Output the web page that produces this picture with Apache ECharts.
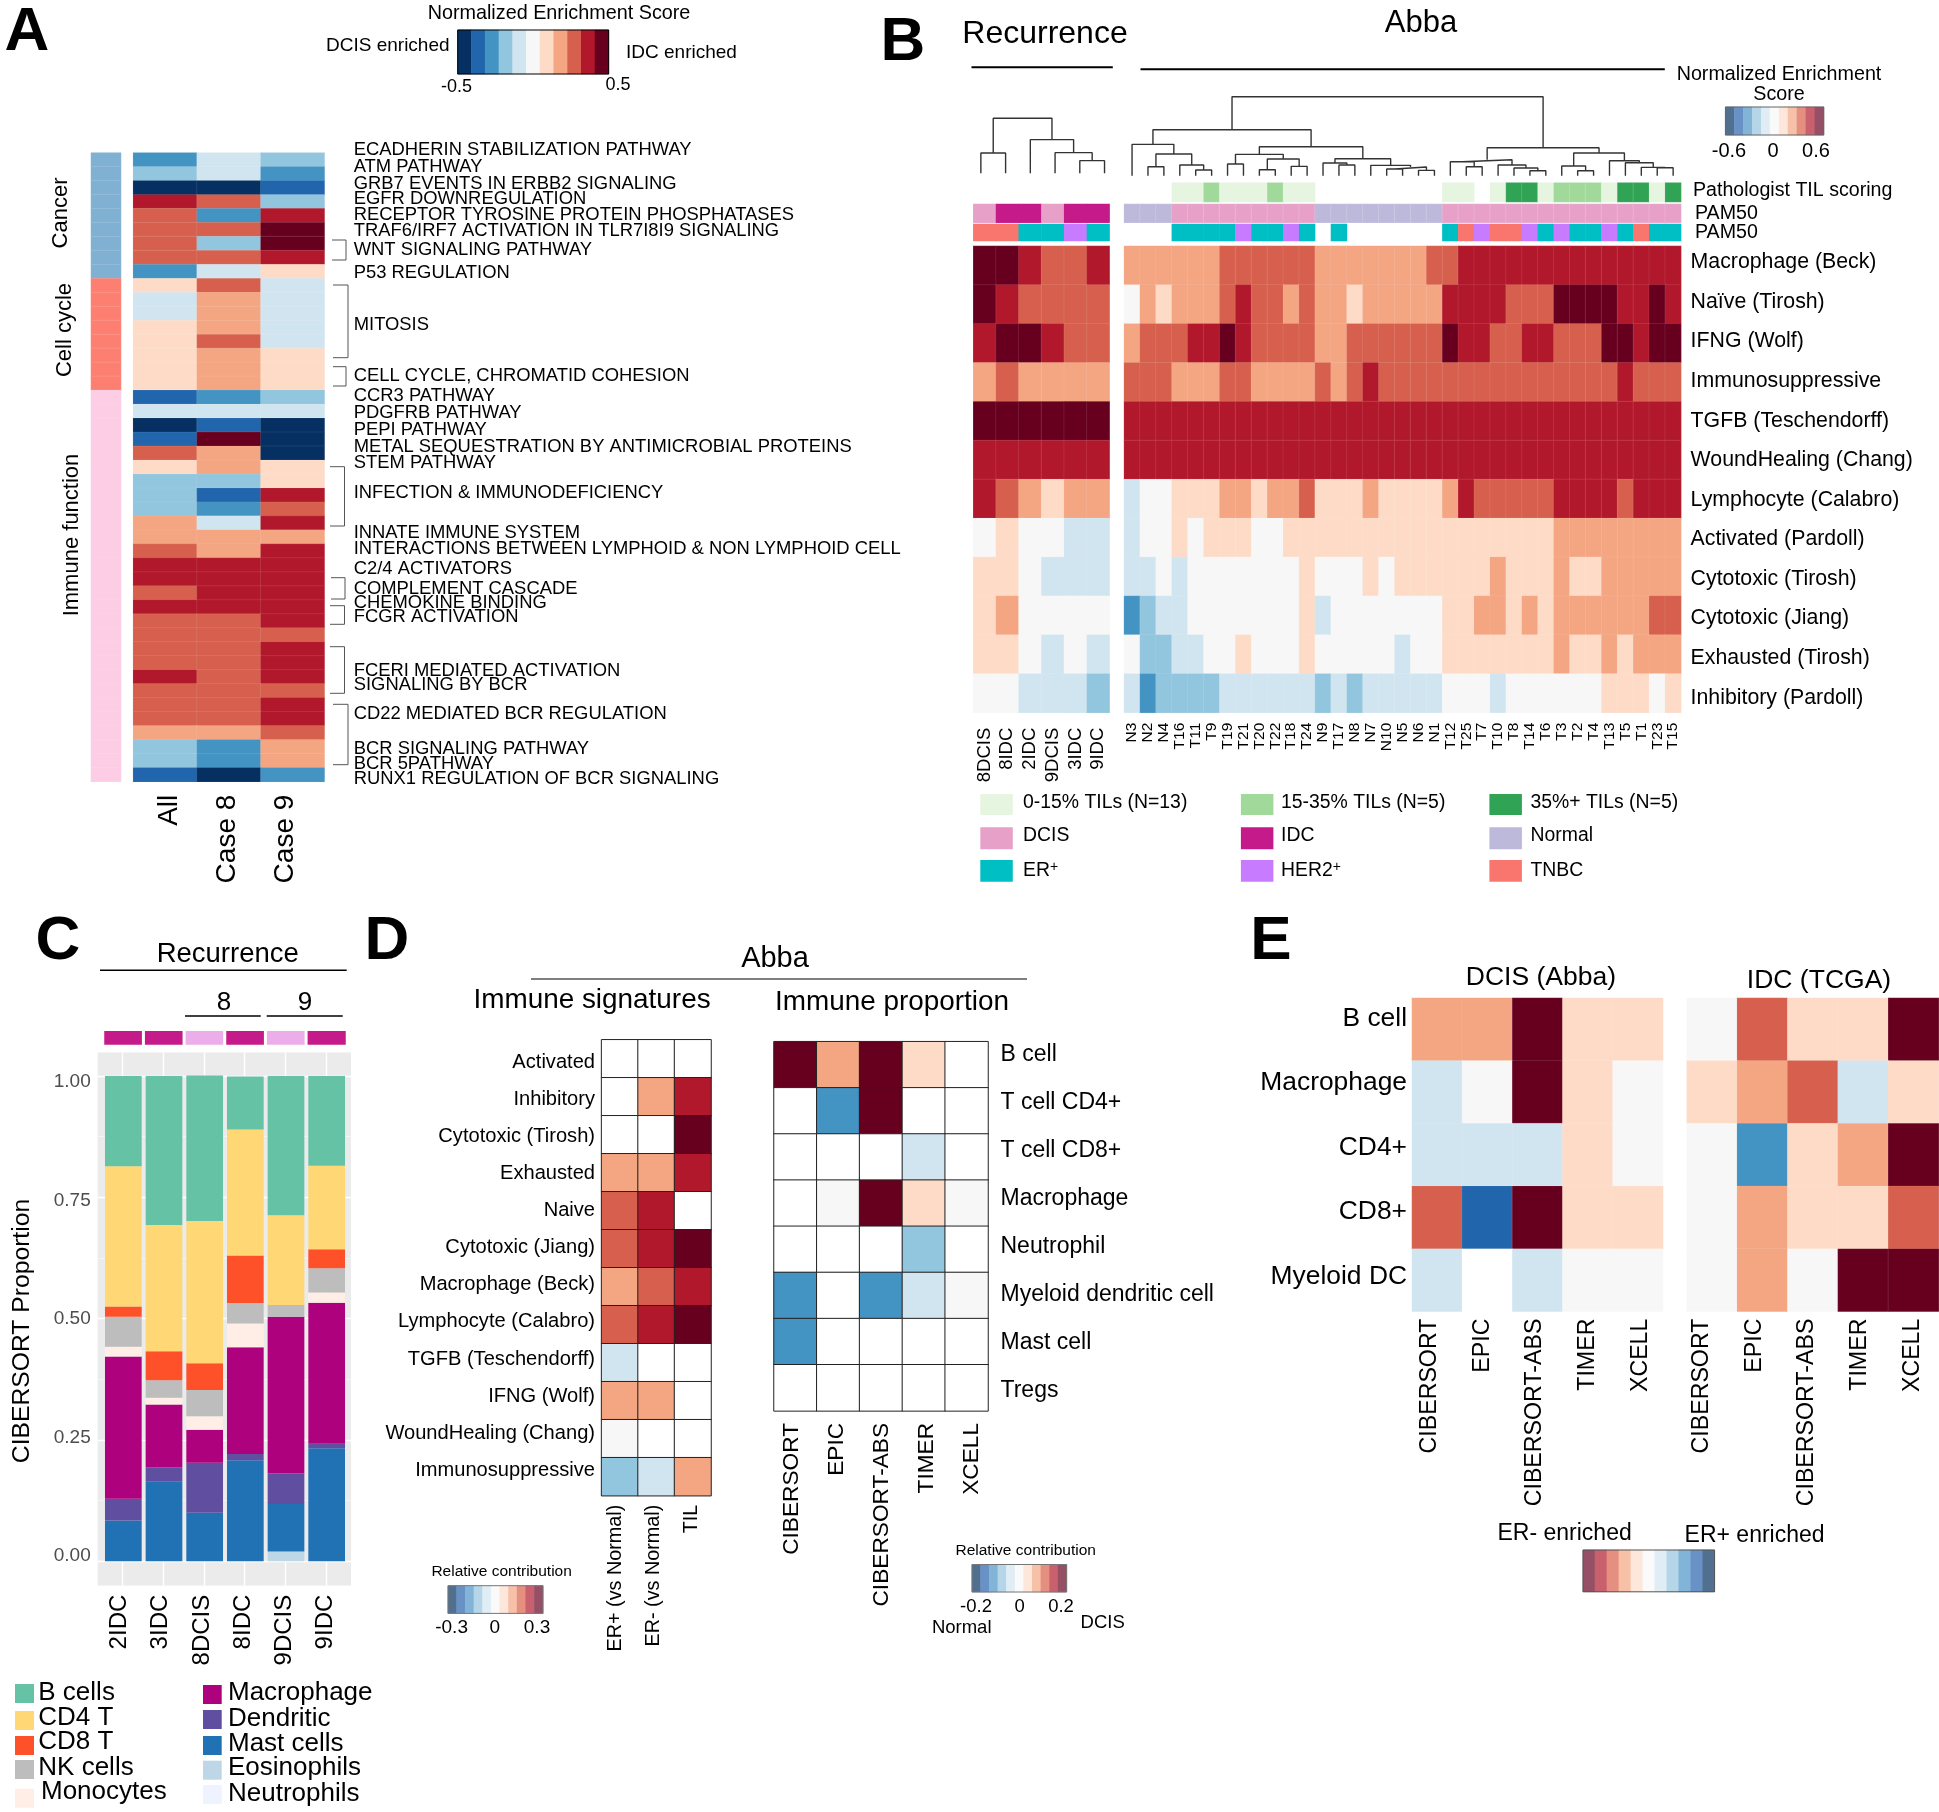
<!DOCTYPE html>
<html><head><meta charset="utf-8">
<style>html,body{margin:0;padding:0;background:#fff}#c{width:1939px;height:1812px}</style>
<script src="https://cdn.jsdelivr.net/npm/echarts@6/dist/echarts.min.js"></script>
</head><body><div id="c"></div>
<script>
// Heat values are the colour bins: -5 (dark blue) .. 5 (dark red); W = blank white cell
const W = 6;
// ---------- Panel A
const aColumns = ['All','Case 8','Case 9'];
const aAll   = [-3,-2,-5,4,3,3,3,3,-3, 1,-1,-1,1,1,1,1,1, -4,-1,-5,-4,3,1,-2,-2,-2,2,2,3,4,4,3,4,3,3,3,3,4,3,3,3,2,-2,-2,-4];
const aCase8 = [-1,-1,-5,3,-3,3,-2,3,-1, 3,2,2,2,3,2,2,2, -3,-1,-4,5,2,2,-2,-4,-3,-1,2,2,4,4,4,4,3,3,3,3,3,3,3,3,2,-3,-3,-5];
const aCase9 = [-2,-3,-4,-2,4,5,5,4,1, -1,-1,-1,-1,-1,1,1,1, -2,-1,-5,-5,-5,1,1,4,3,4,2,4,4,4,4,4,4,3,4,4,4,3,4,4,3,2,2,-3];
const aGroups = ['Cancer','Cell cycle','Immune function'];
const aGroupSizes = [9,8,28];
const aPathways = ['ECADHERIN STABILIZATION PATHWAY','ATM PATHWAY','GRB7 EVENTS IN ERBB2 SIGNALING','EGFR DOWNREGULATION','RECEPTOR TYROSINE PROTEIN PHOSPHATASES','TRAF6/IRF7 ACTIVATION IN TLR7I8I9 SIGNALING','WNT SIGNALING PATHWAY','P53 REGULATION','MITOSIS','CELL CYCLE, CHROMATID COHESION','CCR3 PATHWAY','PDGFRB PATHWAY','PEPI PATHWAY','METAL SEQUESTRATION BY ANTIMICROBIAL PROTEINS','STEM PATHWAY','INFECTION & IMMUNODEFICIENCY','INNATE IMMUNE SYSTEM','INTERACTIONS BETWEEN LYMPHOID & NON LYMPHOID CELL','C2/4 ACTIVATORS','COMPLEMENT CASCADE','CHEMOKINE BINDING','FCGR ACTIVATION','FCERI MEDIATED ACTIVATION','SIGNALING BY BCR','CD22 MEDIATED BCR REGULATION','BCR SIGNALING PATHWAY','BCR 5PATHWAY','RUNX1 REGULATION OF BCR SIGNALING'];
const aPathwayLabelTop = [150,167.3,184,198.7,215,231.3,250.3,273,325,376,396,413,430,447,462.7,493.3,533.3,549.3,568.7,588.7,602.7,616.7,671.3,685.3,714.3,748.7,764.3,779];
const aBrackets = [[332,346,240,260],[333,348,285,357.7],[333,346,366.7,386],[330,344.5,466.7,526],[331,345,577.7,599],[330,344.5,605.7,624.3],[330,344.5,646.7,693.3],[333,348,704.3,764.7]];
const colorbarBins = [-5,-4,-3,-2,-1,0,1,2,3,4,5];

// ---------- Panel B
const bSignatures = ['Macrophage (Beck)','Naïve (Tirosh)','IFNG (Wolf)','Immunosuppressive','TGFB (Teschendorff)','WoundHealing (Chang)','Lymphocyte (Calabro)','Activated (Pardoll)','Cytotoxic (Tirosh)','Cytotoxic (Jiang)','Exhausted (Tirosh)','Inhibitory (Pardoll)'];
const recSamples = ['8DCIS','8IDC','2IDC','9DCIS','3IDC','9IDC'];
const recMacrophage = [5,5,4,3,3,4];
const recNaive = [5,4,3,3,3,3];
const recIfng = [4,5,5,4,3,3];
const recImmuno = [2,3,2,2,2,2];
const recTgfb = [5,5,5,5,5,5];
const recWound = [4,4,4,4,4,4];
const recLympho = [4,3,2,1,2,2];
const recActivated = [0,1,0,0,-1,-1];
const recCytoTirosh = [1,1,0,-1,-1,-1];
const recCytoJiang = [1,2,0,0,0,0];
const recExhausted = [1,1,0,-1,0,-1];
const recInhibitory = [0,0,-1,-1,-1,-2];
const recType = ['DCIS','IDC','IDC','DCIS','IDC','IDC'];
const recSubtype = ['TNBC','TNBC','ER','ER','HER2','ER'];
const recMerge = [[-1,-2,61],[-5,-6,38],[-4,2,62],[-3,3,101],[1,4,165]];

const abbaSamples = ['N3','N2','N4','T16','T11','T9','T19','T21','T20','T22','T18','T24','N9','T17','N8','N7','N10','N5','N6','N1','T12','T25','T7','T10','T8','T14','T6','T3','T2','T4','T13','T5','T1','T23','T15'];
const abMacrophage = [2,2,2,2,2,2,3,3,3,3,3,3,2,2,2,2,2,2,2,3,3,4,4,4,4,4,4,4,4,4,4,4,4,4,4];
const abNaive = [0,2,1,2,2,2,3,4,3,3,2,3,2,2,1,2,2,2,2,2,4,4,4,4,3,3,3,5,5,5,5,4,4,5,4];
const abIfng = [2,3,3,3,4,4,5,4,3,3,3,3,2,2,3,3,3,3,3,3,5,4,4,3,3,4,4,3,3,3,5,5,4,5,5];
const abImmuno = [3,3,3,2,2,2,3,3,2,2,2,2,3,2,3,4,3,3,3,3,3,3,3,3,3,3,3,3,3,3,3,4,3,3,3];
const abTgfb = [4,4,4,4,4,4,4,4,4,4,4,4,4,4,4,4,4,4,4,4,4,4,4,4,4,4,4,4,4,4,4,4,4,4,4];
const abWound = [4,4,4,4,4,4,4,4,4,4,4,4,4,4,4,4,4,4,4,4,4,4,4,4,4,4,4,4,4,4,4,4,4,4,4];
const abLympho = [-1,0,0,1,1,1,2,2,1,2,2,3,1,1,1,2,1,1,1,1,2,4,3,3,3,3,3,4,4,4,4,3,4,4,4];
const abActivated = [-1,0,0,1,0,1,1,1,0,0,1,1,1,1,1,1,1,1,1,1,1,1,1,1,1,1,1,2,2,2,2,2,2,2,2];
const abCytoTirosh = [-1,-1,0,-1,0,0,0,0,0,0,0,1,0,0,0,1,0,1,1,1,1,1,1,2,1,1,1,2,1,1,2,2,2,2,2];
const abCytoJiang = [-3,-2,-1,-1,0,0,0,0,0,0,0,1,-1,0,0,0,0,0,0,0,1,1,2,2,1,2,1,2,2,2,2,2,2,3,3];
const abExhausted = [0,-2,-2,-1,-1,0,0,1,0,0,0,1,0,0,0,0,0,-1,0,0,1,1,1,1,1,1,1,2,1,1,2,1,2,2,2];
const abInhibitory = [-1,-3,-2,-2,-2,-2,-1,-1,-1,-1,-1,-1,-2,-1,-2,-1,-1,-1,-1,-1,0,0,0,-1,0,0,0,0,0,0,1,1,1,0,1];
const abTil = [null,null,null,'L','L','M','L','L','L','M','L','L',null,null,null,null,null,null,null,null,'L','L',null,'L','D','D','L','M','M','M','L','D','D','L','D'];
const abType = ['Normal','Normal','Normal','DCIS','DCIS','DCIS','DCIS','DCIS','DCIS','DCIS','DCIS','DCIS','Normal','Normal','Normal','Normal','Normal','Normal','Normal','Normal','DCIS','DCIS','DCIS','DCIS','DCIS','DCIS','DCIS','DCIS','DCIS','DCIS','DCIS','DCIS','DCIS','DCIS','DCIS'];
const abSubtype = [null,null,null,'ER','ER','ER','ER','HER2','ER','ER','HER2','ER',null,'ER',null,null,null,null,null,null,'ER','TNBC','HER2','TNBC','TNBC','HER2','ER','HER2','ER','ER','HER2','ER','TNBC','ER','ER'];
const abbaMerge = [[-2,-3,27],[-5,-6,17],[-4,2,32],[1,3,65],[-1,4,94],[-17,-18,20],[-19,-20,16],[6,7,26],[-16,8,31],[-14,-15,32],[-13,10,38],[11,9,51],[-9,-10,18],[-11,-12,28],[13,14,50],[-7,-8,35],[16,15,64],[17,12,87],[5,18,138],[-22,-23,27],[-21,20,42],[-26,-27,15],[-25,22,23],[-24,23,32],[21,24,48],[-29,-30,15],[-28,26,29],[-34,-35,24],[-33,28,25],[-32,29,39],[-31,30,45],[27,31,68],[25,32,84],[19,33,237]];
const bLegendNames = ['0-15% TILs (N=13)','15-35% TILs (N=5)','35%+ TILs (N=5)','DCIS','IDC','Normal','ER','HER2','TNBC'];
const bLegendKeys = ['L','M','D','DCIS','IDC','Normal','ER','HER2','TNBC'];

// ---------- Panel C (bottom to top of the stack)
const cSamples = ['2IDC','3IDC','8DCIS','8IDC','9DCIS','9IDC'];
const cGroup = ['IDC','IDC','DCISL','IDC','DCISL','IDC'];
const cNeutrophils = [0,0,0,0,0,0];
const cEosinophils = [0,0,0,0,0.02,0];
const cMast = [0.084,0.164,0.10,0.208,0.098,0.233];
const cDendritic = [0.045,0.030,0.103,0.013,0.063,0.009];
const cMacrophage = [0.293,0.129,0.068,0.220,0.323,0.291];
const cMonocytes = [0.020,0.014,0.028,0.049,0,0.021];
const cNK = [0.062,0.036,0.054,0.042,0.024,0.050];
const cCD8 = [0.021,0.060,0.055,0.098,0,0.039];
const cCD4 = [0.289,0.260,0.293,0.260,0.185,0.172];
const cB = [0.186,0.307,0.300,0.109,0.287,0.185];
const cExtendedRange = [-0.25,1.25];

// ---------- Panel D
const dSigLabels = ['Activated','Inhibitory','Cytotoxic (Tirosh)','Exhausted','Naive','Cytotoxic (Jiang)','Macrophage (Beck)','Lymphocyte (Calabro)','TGFB (Teschendorff)','IFNG (Wolf)','WoundHealing (Chang)','Immunosuppressive'];
const dSigColumns = ['ER+ (vs Normal)','ER- (vs Normal)','TIL'];
const dSigErPos = [W,W,W,2,3,3,2,3,-1,2,0,-2];
const dSigErNeg = [W,2,W,2,4,4,3,4,W,2,W,-1];
const dSigTil   = [W,4,5,4,W,5,4,5,W,W,W,2];
const dPropLabels = ['B cell','T cell CD4+','T cell CD8+','Macrophage','Neutrophil','Myeloid dendritic cell','Mast cell','Tregs'];
const methods = ['CIBERSORT','EPIC','CIBERSORT-ABS','TIMER','XCELL'];
const dPropCibersort = [5,W,W,W,W,-3,-3,W];
const dPropEpic = [2,-3,W,0,W,W,W,W];
const dPropAbs = [5,5,W,5,W,-3,W,W];
const dPropTimer = [1,W,-1,1,-2,-1,W,W];
const dPropXcell = [W,W,W,0,W,0,W,W];

// ---------- Panel E
const eCells = ['B cell','Macrophage','CD4+','CD8+','Myeloid DC'];
const eDcisCibersort = [2,-1,-1,3,-1];
const eDcisEpic = [2,0,-1,-4,W];
const eDcisAbs = [5,5,-1,5,-1];
const eDcisTimer = [1,1,1,1,0];
const eDcisXcell = [1,0,0,1,0];
const eIdcCibersort = [0,1,0,0,0];
const eIdcEpic = [3,2,-3,2,2];
const eIdcAbs = [1,3,1,1,0];
const eIdcTimer = [1,-1,2,1,5];
const eIdcXcell = [5,1,5,3,5];

// ---------- Colours
const F = "'Liberation Sans', Arial, sans-serif";
const levelColors = ['#053061','#2166ac','#4393c3','#92c5de','#d1e5f0','#f7f7f7','#fddbc7','#f4a582','#d6604d','#b2182b','#67001f'];
const softColors = ['#51708f','#6892c5','#82b4d8','#b4d6e8','#e1edf5','#fafafa','#fde6da','#f7c1a8','#e48f80','#c9606e','#955066'];
const catColors = {Cancer:'#80b1d3','Cell cycle':'#fd7f72','Immune function':'#fccde5',L:'#e5f5e0',M:'#a1d99b',D:'#31a354',DCIS:'#e7a1c9',IDC:'#c51b8a',Normal:'#bcb9da',ER:'#00bfc4',HER2:'#c77cff',TNBC:'#f8766d',DCISL:'#ebaeea'};
const catKeys = Object.keys(catColors);
const catCode = k => 40 + catKeys.indexOf(k);
const softCode = v => v + 25;
const pieces = [];
levelColors.forEach((c,i)=>pieces.push({value:i-5,color:c}));
pieces.push({value:W,color:'#ffffff'});
softColors.forEach((c,i)=>pieces.push({value:softCode(i-5),color:c}));
catKeys.forEach(k=>pieces.push({value:catCode(k),color:catColors[k]}));

// ---------- Builders
const grids=[],xAxes=[],yAxes=[],series=[],gfx=[],heatIdx=[];
const hiddenCat = d=>({type:'category',data:d,axisLine:{show:false},axisTick:{show:false},axisLabel:{show:false},splitLine:{show:false}});
function addGrid(b,x,y,extra){grids.push(Object.assign({left:b[0],top:b[1],width:b[2],height:b[3],containLabel:false},extra||{}));
  const g=grids.length-1;x.gridIndex=g;y.gridIndex=g;xAxes.push(x);yAxes.push(y);return g;}
function heat(b,xCats,yCats,rows,o){ o=o||{};
  const x=hiddenCat(xCats), y=hiddenCat(yCats); y.inverse=true;
  if(o.xLabel){x.axisLabel=Object.assign({show:true,rotate:90,interval:0,color:'#000',fontFamily:F},o.xLabel);}
  const g=addGrid(b,x,y); const data=[];
  rows.forEach((r,j)=>r.forEach((v,i)=>{if(v!==null&&v!==undefined)data.push([i,j,v]);}));
  heatIdx.push(series.length);
  series.push({type:'heatmap',xAxisIndex:g,yAxisIndex:g,data:data,animation:false,
    itemStyle:{borderWidth:o.bw===undefined?0.5:o.bw,borderColor:o.bc||'rgba(255,255,255,0.18)'},emphasis:{disabled:true}});
}
function labelColumn(b,cats,lab,pos){
  const x=hiddenCat(['']),y=hiddenCat(cats);y.inverse=true;y.position=pos;
  y.axisLabel=Object.assign({show:true,interval:0,color:'#000',fontFamily:F},lab);
  addGrid(b,x,y);
}
function labelRow(b,cats,lab){
  const x=hiddenCat(cats),y=hiddenCat(['']);x.z=5;
  x.axisLabel=Object.assign({show:true,rotate:90,interval:0,color:'#000',fontFamily:F},lab);
  addGrid(b,x,y);
}
function dendro(b,nLeaves,maxH,merge){
  const nodes=[],pts=[];
  const at=r=>r<0?[-r-0.5,0]:nodes[r-1];
  merge.forEach(m=>{const a=at(m[0]),c=at(m[1]);
    pts.push([a[0],a[1]],[a[0],m[2]],[c[0],m[2]],[c[0],c[1]],['-','-']);
    nodes.push([(a[0]+c[0])/2,m[2]]);});
  const ax=(mx)=>({type:'value',min:0,max:mx,axisLine:{show:false},axisTick:{show:false},axisLabel:{show:false},splitLine:{show:false}});
  const g=addGrid(b,ax(nLeaves),ax(maxH));
  series.push({type:'line',xAxisIndex:g,yAxisIndex:g,data:pts,showSymbol:false,animation:false,silent:true,connectNulls:false,
    lineStyle:{color:'#333',width:1.4}});
}
function T(s,x,y,size,o){o=o||{};
  gfx.push({type:'text',x:x,y:y,rotation:o.rot||0,z:10,silent:true,style:Object.assign({text:s,fill:o.color||'#000',fontFamily:F,fontSize:size,fontWeight:o.weight||'normal',align:o.align||'center',verticalAlign:'middle'},o.style||{})});
}
function L(pts,w,c){gfx.push({type:'polyline',z:10,silent:true,shape:{points:pts},style:{fill:'none',stroke:c||'#000',lineWidth:w}});}
function R(x,y,w,h,fill,stroke){gfx.push({type:'rect',z:stroke?10:1,silent:true,shape:{x:x,y:y,width:w,height:h},style:{fill:fill,stroke:stroke||null,lineWidth:stroke?1:0}});}
function colorbar(b,codes,outline){
  heat(b,codes.map(String),['bar'],[codes],{bw:0});
  R(b[0],b[1],b[2],b[3],'none',outline);
}
const transpose=cols=>cols[0].map((_,i)=>cols.map(c=>c[i]));

// Panel letters
[['A',27,33],['B',903,43],['C',58,942],['D',387,942],['E',1271,942]].forEach(p=>T(p[0],p[1],p[2],62,{weight:'bold'}));

// ===== Panel A
T('Normalized Enrichment Score',559,13.5,19.8);
T('DCIS enriched',326,46,19,{align:'left'});
T('IDC enriched',626,53,19,{align:'left'});
colorbar([457.7,30,151,44],colorbarBins,'#000');
T('-0.5',456.5,87,18);T('0.5',618,85,18);
const aRowIds=aAll.map((_,i)=>'r'+i);
const aGroupCol=[];aGroups.forEach((g,k)=>{for(let i=0;i<aGroupSizes[k];i++)aGroupCol.push(catCode(g));});
heat([91,152.7,30,629],['group'],aRowIds,aGroupCol.map(v=>[v]));
heat([133.2,152.7,191.3,629],aColumns,aRowIds,transpose([aAll,aCase8,aCase9]));
labelRow([140,400,174,381.7],aColumns,{fontSize:28,margin:13});
T('Cancer',61,213,22,{rot:Math.PI/2});
T('Cell cycle',65,330,22,{rot:Math.PI/2});
T('Immune function',72,535,22,{rot:Math.PI/2});
aPathways.forEach((p,i)=>T(p,353.7,aPathwayLabelTop[i],18.4,{align:'left'}));
aBrackets.forEach(b=>L([[b[0],b[2]],[b[1],b[2]],[b[1],b[3]],[b[0],b[3]]],1,'#555'));

// ===== Panel B
T('Recurrence',1045,34.5,32);T('Abba',1421,23.5,31);
L([[971.5,67.3],[1112.8,67.3]],2);L([[1140.5,69.3],[1664.8,69.3]],2);
T('Normalized Enrichment',1779,74.5,19.7);T('Score',1779,94.5,19.7);
colorbar([1725.4,107,98.4,28],colorbarBins.map(softCode),'#666');
T('-0.6',1729,151.7,20);T('0',1773,151.7,20);T('0.6',1816,151.7,20);
dendro([968.5,93.3,148.4,80],6,240,recMerge);
dendro([1124.1,95.7,557,80],35,240,abbaMerge);
heat([973.3,204,136.3,18.7],recSamples,['t'],[recType.map(catCode)],{bw:0});
heat([973.3,224,136.3,17],recSamples,['s'],[recSubtype.map(catCode)],{bw:0});
heat([1124.1,182.7,557,19.3],abbaSamples,['til'],[abTil.map(k=>k?catCode(k):null)],{bw:0.5,bc:'rgba(255,255,255,0.3)'});
heat([1124.1,204,557,18.7],abbaSamples,['t'],[abType.map(catCode)],{bw:0.5,bc:'rgba(255,255,255,0.3)'});
heat([1124.1,224,557,17],abbaSamples,['s'],[abSubtype.map(k=>k?catCode(k):null)],{bw:0});
T('Pathologist TIL scoring',1693,191,19.6,{align:'left'});T('PAM50',1695,213.7,19.6,{align:'left'});T('PAM50',1695,233,19.6,{align:'left'});
const recRows=[recMacrophage,recNaive,recIfng,recImmuno,recTgfb,recWound,recLympho,recActivated,recCytoTirosh,recCytoJiang,recExhausted,recInhibitory];
const abRows=[abMacrophage,abNaive,abIfng,abImmuno,abTgfb,abWound,abLympho,abActivated,abCytoTirosh,abCytoJiang,abExhausted,abInhibitory];
heat([973.3,246,136.3,466.7],recSamples,bSignatures,recRows,{xLabel:{fontSize:18.5,margin:15}});
heat([1124.1,246,557,466.7],abbaSamples,bSignatures,abRows,{xLabel:{fontSize:15.5,margin:10}});
labelColumn([1124.1,242.7,557,474.8],bSignatures,{fontSize:21.3,margin:9.5},'right');
const bLegX=[[980.3,1023],[1240.9,1281],[1489.4,1530.5]],bLegY=[[794,21,802.5],[827.3,22,835.5],[860,21.7,871]];
bLegendNames.forEach((n,i)=>{const c=bLegX[i%3],r=bLegY[Math.floor(i/3)];
  R(c[0],r[0],32.5,r[1],catColors[bLegendKeys[i]]);
  if(n==='ER'||n==='HER2'){T('{a|'+n+'}{b|+}',c[1],r[2],19.4,{align:'left',style:{rich:{a:{fontSize:19.4,fontFamily:F,fill:'#000'},b:{fontSize:14,fontFamily:F,fill:'#000',verticalAlign:'top',padding:[0,0,8,0]}}}});}
  else T(n,c[1],r[2],19.4,{align:'left'});});

// ===== Panel C
T('Recurrence',227.7,954,27.5);L([[100,970.3],[346.7,970.3]],1.5);
T('8',224,1003,26);L([[185,1016],[260.7,1016]],1.5);
T('9',305,1003,26);L([[266.7,1016],[342.7,1016]],1.5);
const noAxis=()=>({axisLine:{show:false},axisTick:{show:false},axisLabel:{show:false}});
const cBox=[954.7,727.9];   // stack grid, one tick beyond 0 and 1
// grey panel
addGrid([97.7,1052.3,253.3,533.4],Object.assign({type:'value',min:0,max:1,splitLine:{show:false}},noAxis()),Object.assign({type:'value',min:0,max:1,splitLine:{show:false}},noAxis()),{show:true,backgroundColor:'#ebebeb',borderWidth:0});
// horizontal gridlines: the value scale of the stack, extended by one tick each way
addGrid([97.7,cBox[0],253.3,cBox[1]],Object.assign({type:'value',min:0,max:1,splitLine:{show:false}},noAxis()),
  Object.assign({type:'value',min:cExtendedRange[0],max:cExtendedRange[1],interval:0.25,splitLine:{show:true,showMinLine:false,showMaxLine:false,lineStyle:{color:'#fff',width:1.4}},minorTick:{show:false,splitNumber:2},minorSplitLine:{show:true,lineStyle:{color:'#f6f6f6',width:0.8}}},noAxis()));
R(97.7,985,253.3,67.3,'#fff');R(97.7,1585.7,253.3,60,'#fff');
// vertical gridlines at the bar centres
addGrid([81.83,1052.3,284.7,533.4],Object.assign({type:'value',min:0,max:7,interval:1,splitLine:{show:true,showMinLine:false,showMaxLine:false,lineStyle:{color:'#fff',width:1.4}}},noAxis()),Object.assign({type:'value',min:0,max:1,splitLine:{show:false}},noAxis()));
heat([103,1029.7,244,16.3],cSamples,['g'],[cGroup.map(catCode)],{bw:3,bc:'#fff'});
const cg=addGrid([103,cBox[0],244,cBox[1]],hiddenCat(cSamples),
  Object.assign({type:'value',min:cExtendedRange[0],max:cExtendedRange[1],interval:0.25,splitLine:{show:false}},noAxis()));
// tick labels of the stack
addGrid([97.7,1081.7,253.3,474.3],Object.assign({type:'value',min:0,max:1,splitLine:{show:false}},noAxis()),
  {type:'value',min:0,max:1,interval:0.25,axisLine:{show:false},axisTick:{show:false},splitLine:{show:false},axisLabel:{fontSize:19,color:'#4d4d4d',margin:7,fontFamily:F,formatter:v=>v.toFixed(2)}});
labelRow([99,1400,247,185.7],cSamples,{fontSize:24,margin:9});
[['Neutrophils',cNeutrophils,'#eff3ff'],['Eosinophils',cEosinophils,'#bdd7e7'],['Mast cells',cMast,'#2171b5'],['Dendritic',cDendritic,'#604ea0'],['Macrophage',cMacrophage,'#ae017e'],['Monocytes',cMonocytes,'#feeee6'],['NK cells',cNK,'#bdbdbd'],['CD8 T',cCD8,'#fe5029'],['CD4 T',cCD4,'#ffd775'],['B cells',cB,'#66c2a5']].forEach(s=>{
  series.push({type:'bar',name:s[0],stack:'c',xAxisIndex:cg,yAxisIndex:cg,data:s[1],barWidth:36.7,animation:false,silent:true,itemStyle:{color:s[2]}});});
T('CIBERSORT Proportion',22,1331,24.7,{rot:Math.PI/2});
const cLeg=[['B cells','#66c2a5',15,1684,38.3,1693],['CD4 T','#ffd775',15,1711,38.3,1718],['CD8 T','#fe5029',15,1736,38.3,1742],['NK cells','#bdbdbd',15,1760,38.3,1767.6],['Monocytes','#feeee6',15,1788.7,41,1792],
 ['Macrophage','#ae017e',203,1685,228,1693],['Dendritic','#604ea0',203,1710,228,1719],['Mast cells','#2171b5',203,1736,228,1744],['Eosinophils','#bdd7e7',203,1760.7,228,1768],['Neutrophils','#eff3ff',203,1785,228,1794]];
cLeg.forEach(l=>{R(l[2],l[3],l[2]===15?19:18.7,19,l[1]);T(l[0],l[4],l[5],26,{align:'left'});});

// ===== Panel D
T('Abba',775,958.7,29);L([[531,979],[1027,979]],1.2);
T('Immune signatures',592,1000,27.9);T('Immune proportion',892,1002.5,27.9);
heat([601.6,1039.8,109.4,455.9],dSigColumns,dSigLabels,transpose([dSigErPos,dSigErNeg,dSigTil]),{bw:1,bc:'#222'});
labelRow([596,1300,115,195.7],dSigColumns,{fontSize:19.8,margin:9});
labelColumn([601.6,1043.7,109.4,445.2],dSigLabels,{fontSize:20.1,margin:6.6},'left');
heat([774,1041.7,214,369.2],methods,dPropLabels,transpose([dPropCibersort,dPropEpic,dPropAbs,dPropTimer,dPropXcell]),{bw:1,bc:'#222'});
labelRow([768.8,1100,226,310.9],methods,{fontSize:22.7,margin:12});
labelColumn([774,1030.6,214,384],dPropLabels,{fontSize:23,margin:12.5},'right');
T('Relative contribution',501.6,1572,15.5);
colorbar([448,1585.7,95,27.7],colorbarBins.map(softCode),'#777');
T('-0.3',451.6,1628,19);T('0',494.8,1628,19);T('0.3',537,1628,19);
T('Relative contribution',1025.7,1551,15.5);
colorbar([972,1564.5,94.7,27.5],colorbarBins.map(softCode),'#777');
T('-0.2',976,1607.4,18.5);T('0',1019.6,1607.4,18.5);T('0.2',1061,1607.4,18.5);
T('Normal',961.7,1628,18.5);T('DCIS',1102.7,1623,18.5);

// ===== Panel E
T('DCIS (Abba)',1540.9,978,26.5);T('IDC (TCGA)',1819,980.7,26.5);
heat([1412,998,251,313.6],methods,eCells,transpose([eDcisCibersort,eDcisEpic,eDcisAbs,eDcisTimer,eDcisXcell]));
heat([1686.8,998,251.9,313.6],methods,eCells,transpose([eIdcCibersort,eIdcEpic,eIdcAbs,eIdcTimer,eIdcXcell]));
labelColumn([1412,986.6,251,322],eCells,{fontSize:26.4,margin:5},'left');
labelRow([1403,1100,264,211.6],methods,{fontSize:23.2,margin:7});
labelRow([1675,1100,264.4,211.6],methods,{fontSize:23.2,margin:7});
T('ER- enriched',1564.6,1533.8,23);T('ER+ enriched',1754.6,1535.6,23);
colorbar([1583,1550,131.6,41.8],colorbarBins.slice().reverse().map(softCode),'#555');

const chart=echarts.init(document.getElementById('c'),null,{renderer:'canvas',width:1939,height:1812});
chart.setOption({animation:false,backgroundColor:'#fff',textStyle:{fontFamily:F},
  grid:grids,xAxis:xAxes,yAxis:yAxes,series:series,graphic:{elements:gfx},
  visualMap:{type:'piecewise',show:false,dimension:2,seriesIndex:heatIdx,pieces:pieces}});
</script></body></html>
